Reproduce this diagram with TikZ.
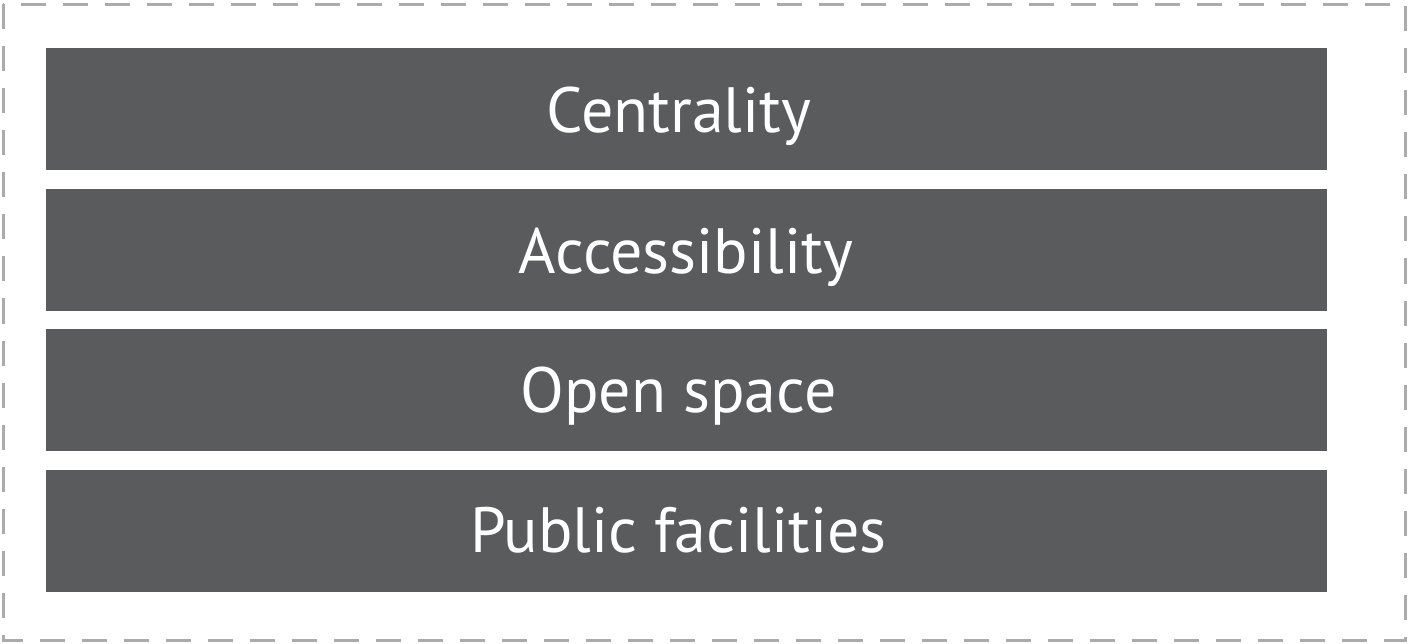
\documentclass[tikz,border=0pt]{standalone}
\usepackage{fontspec}
\setmainfont{PT Sans}
\definecolor{boxgray}{HTML}{5A5B5D}
\definecolor{dashgray}{HTML}{ABABAB}
\begin{document}
\begin{tikzpicture}[x=1pt,y=-1pt,
  bar/.style={fill=boxgray, draw=none, minimum width=1281pt, minimum height=122pt, inner sep=0pt, anchor=center},
  lbl/.style={text=white, font=\fontsize{64}{64}\selectfont, inner sep=0pt, anchor=base},
  frame/.style={draw=dashgray, line width=3pt, dash pattern=on 25pt off 17pt}]
\useasboundingbox (0,0) rectangle (1408,644);
\fill[white] (0,0) rectangle (1408,644);
\draw[frame] (3,4.5) rectangle (1405,640);
\node[bar] (c) at (686.5,109) {};
\node[bar] (a) at (686.5,250) {};
\node[bar] (o) at (686.5,390) {};
\node[bar] (p) at (686.5,531) {};
\node[lbl] (ct) at (679,133) {Centrality};
\node[lbl] (at) at (686,273.5) {Accessibility};
\node[lbl] (ot) at (678.5,412) {Open space};
\node[lbl] (pt) at (678.5,552) {Public facilities};
\end{tikzpicture}
\end{document}
